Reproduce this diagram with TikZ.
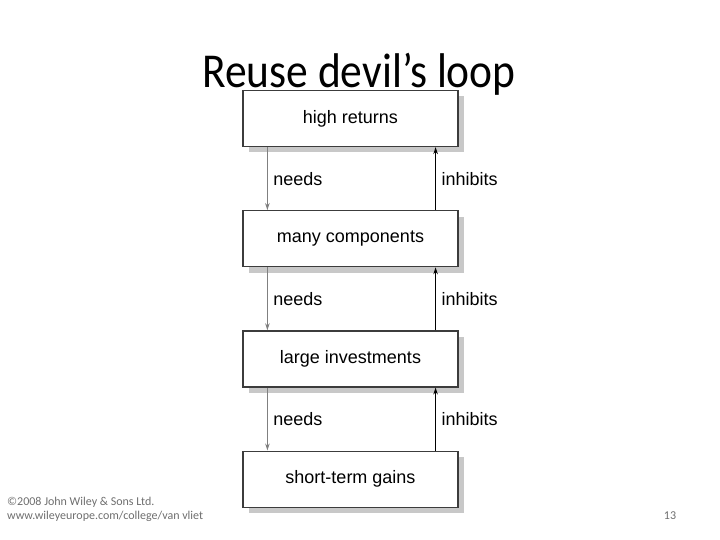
\documentclass[tikz,border=0pt]{standalone}
\usepackage{fontspec}
\setmainfont{Liberation Sans}
\newfontfamily\slidefont{Carlito}
\usetikzlibrary{positioning, arrows.meta, shadows}
\definecolor{boxborder}{RGB}{60,60,60}
\definecolor{shadowcolor}{RGB}{200,200,200}
\definecolor{footcolor}{RGB}{110,110,110}

\begin{document}
\begin{tikzpicture}[
    x=1pt, y=-1pt,
    node distance=63pt,
    loopbox/.style={
        rectangle,
        minimum width=215pt,
        minimum height=56pt,
        draw=boxborder,
        line width=1.2pt,
        fill=white,
        font=\fontsize{18}{21}\selectfont,
        drop shadow={shadow xshift=6pt, shadow yshift=-6pt, fill=shadowcolor, opacity=1}
    },
    needsarrow/.style={-{Stealth[length=7pt, width=4.5pt]}, line width=1.3pt, color=gray},
    inhibitsarrow/.style={-{Stealth[length=7pt, width=4.5pt]}, line width=1.2pt, color=black},
    looplabel/.style={midway, right, xshift=2pt, font=\fontsize{18}{21}\selectfont}
]
\useasboundingbox (0,0) rectangle (720,540);

% Title
\node (title) [anchor=base, font=\slidefont\fontsize{43.5}{50}\selectfont] at (359,88)
    {\scalebox{1}[1.12]{Reuse devil’s loop}};

%% BOXES %%
\node (returns) [loopbox] at (350.5,118.5) {high returns};
\node (components) [loopbox, below=of returns] {many components};
\node (investments) [loopbox, below=of components] {large investments};
\node (gains) [loopbox, below=of investments] {short-term gains};

%% ARROWS %%
\draw [needsarrow] ([xshift=25pt]returns.south west) --
    node[looplabel, text=black] {needs}
    ([xshift=25pt]components.north west);
\draw [inhibitsarrow] ([xshift=-23pt]components.north east) --
    node[looplabel] {inhibits}
    ([xshift=-23pt]returns.south east);

\draw [needsarrow] ([xshift=25pt]components.south west) --
    node[looplabel, text=black] {needs}
    ([xshift=25pt]investments.north west);
\draw [inhibitsarrow] ([xshift=-23pt]investments.north east) --
    node[looplabel] {inhibits}
    ([xshift=-23pt]components.south east);

\draw [needsarrow] ([xshift=25pt]investments.south west) --
    node[looplabel, text=black] {needs}
    ([xshift=25pt]gains.north west);
\draw [inhibitsarrow] ([xshift=-23pt]gains.north east) --
    node[looplabel] {inhibits}
    ([xshift=-23pt]investments.south east);

%% FOOTER %%
\node (copyright) [anchor=base west, align=left, inner sep=0pt, text=footcolor,
    font=\slidefont\fontsize{12}{14}\selectfont] at (7,519)
    {©2008 John Wiley \& Sons Ltd.\\www.wileyeurope.com/college/van vliet};
\node (pagenum) [anchor=base, text=footcolor, font=\slidefont\fontsize{12}{14}\selectfont] at (670,519) {13};

\end{tikzpicture}
\end{document}
